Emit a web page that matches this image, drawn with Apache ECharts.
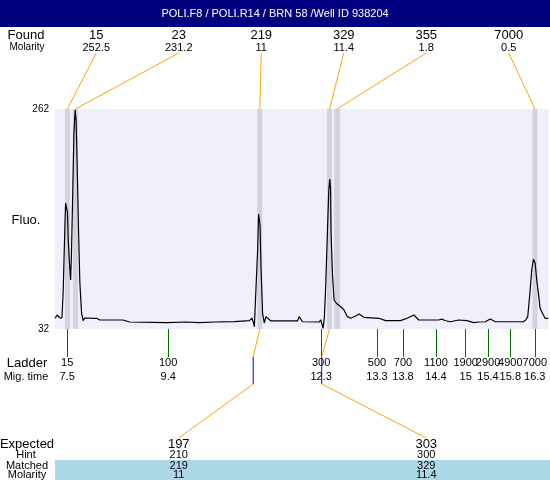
<!DOCTYPE html>
<html><head><meta charset="utf-8">
<script src="https://cdn.jsdelivr.net/npm/echarts@6/dist/echarts.min.js"></script>
<style>html,body{margin:0;padding:0;background:#fff}#c{width:550px;height:480px}</style>
</head><body><div id="c"></div>
<script>
const title = 'POLI.F8 / POLI.R14 / BRN 58 /Well ID 938204';
const traceTime = [7.27,7.31,7.344,7.363,7.401,7.425,7.438,7.457,7.470,7.489,7.504,7.519,7.541,7.564,7.579,7.601,7.626,7.650,7.667,7.688,7.714,7.738,7.770,7.800,7.832,7.864,8.052,8.114,8.545,8.676,9.371,9.746,9.990,10.271,10.646,10.928,10.978,11.003,11.022,11.054,11.084,11.102,11.115,11.129,11.147,11.177,11.209,11.241,11.271,11.335,11.616,11.834,11.866,11.928,12.241,12.273,12.316,12.341,12.367,12.397,12.423,12.442,12.457,12.466,12.491,12.523,12.566,12.648,12.710,12.772,12.836,12.930,12.992,13.085,13.367,13.493,13.774,13.898,14.024,14.117,14.493,14.555,14.605,14.712,14.868,15.024,15.149,15.243,15.369,15.463,15.556,16.087,16.130,16.168,16.213,16.243,16.275,16.307,16.337,16.369,16.401,16.444,16.494,16.556];
const traceFluo = [43.2,46.6,46.1,43.5,43.5,72.8,101.0,140.7,163.7,165.3,154.3,125.0,102.0,83.2,109.4,166.9,236.9,261.0,250.5,201.4,132.4,80.1,48.7,40.7,43.5,44.2,43.2,41.4,41.4,39.3,38.6,39.3,38.6,39.3,39.8,40.7,43.2,39.3,34.4,76.2,114.6,152.2,153.6,140.7,97.1,48.4,38.3,44.9,43.2,40.4,40.4,40.4,44.9,39.6,39.3,41.4,32.7,44.9,80.1,132.4,177.3,188.8,177.3,132.4,90.5,62.3,58.9,55.3,51.9,44.9,43.2,45.6,47.7,44.2,43.2,40.7,40.7,43.2,46.6,41.4,41.4,42.5,40.9,39.6,41.4,40.7,38.6,39.3,39.6,42.5,39.6,39.6,41.4,44.9,72.8,93.7,104.9,100.7,83.2,69.3,53.6,48.4,43.2,43.2];
const yTicks = [32, 262];
const foundSizes = ['15','23','219','329','355','7000'];
const foundMolarity = ['252.5','231.2','11','11.4','1.8','0.5'];
const foundStart = [7.457, 7.607, 11.078, 12.391, 12.523, 16.256];
const foundEnd = [7.551, 7.701, 11.172, 12.485, 12.636, 16.350];
const ladderSizes = ['15','100','300','500','700','1100','1900','2900','4900','7000'];
const ladderTimes = [7.5, 9.4, 12.28, 13.33, 13.82, 14.44, 15.0, 15.42, 15.84, 16.3];
const expectedSizes = ['197','303'];
const expectedTimes = [11.0, 12.29];
const hintSizes = ['210','300'];
const matchedSizes = ['219','329'];
const matchedMolarity = ['11','11.4'];
const matchedFound = [2, 3];

const FF = '"Liberation Sans", Arial, sans-serif';
const chart = echarts.init(document.getElementById('c'), null, {renderer:'canvas'});
const GL = 55, GT = 109, GW = 495, GH = 220;

chart.setOption({
  animation: false,
  backgroundColor: '#ffffff',
  grid: {left: GL, top: GT, width: GW, height: GH, show: true, backgroundColor: '#f0f0fc', borderWidth: 0},
  xAxis: {
    type: 'value', min: 7.27, max: 16.556,
    axisLine: {show: false}, splitLine: {show: false},
    axisTick: {show: true, customValues: ladderTimes, length: 28, lineStyle: {color: '#007000', width: 1}},
    axisLabel: {
      show: true, customValues: ladderTimes, margin: 27,
      formatter: function (v) {
        let i = ladderTimes.findIndex(t => Math.abs(t - v) < 1e-6);
        if (i < 0) return '';
        return '{a|' + ladderSizes[i] + '}\n{b|' + parseFloat(ladderTimes[i].toFixed(1)) + '}';
      },
      rich: {
        a: {fontSize: 11, fontFamily: FF, color: '#000', lineHeight: 14},
        b: {fontSize: 11, fontFamily: FF, color: '#000', lineHeight: 14}
      }
    }
  },
  yAxis: {
    type: 'value', min: 32, max: 262,
    axisLine: {show: false}, axisTick: {show: false}, splitLine: {show: false},
    axisLabel: {customValues: yTicks, fontSize: 10, fontFamily: FF, color: '#000', margin: 6}
  },
  series: [{
    type: 'line', data: traceTime.map((t, i) => [t, traceFluo[i]]),
    showSymbol: false, lineStyle: {color: '#000', width: 1.2}, z: 5,
    markArea: {
      silent: true, itemStyle: {color: '#d3d3e0'},
      data: foundStart.map((s, i) => [{xAxis: s}, {xAxis: foundEnd[i]}])
    }
  }]
});

function txt(x, y, s, size, fill) {
  return {type: 'text', x: x, y: y, z: 100,
    style: {text: s, fill: fill || '#000', fontSize: size, fontFamily: FF, align: 'center', verticalAlign: 'middle'}};
}
function line(x1, y1, x2, y2, c) {
  return {type: 'line', z: 90, shape: {x1, y1, x2, y2}, style: {stroke: c, lineWidth: 1}};
}
const g = [];
g.push({type: 'rect', z: 80, shape: {x: 0, y: 0, width: 550, height: 27}, style: {fill: '#000080'}});
g.push(txt(275, 14, title, 11, '#ffffff'));
g.push(txt(26, 35, 'Found', 13));
g.push(txt(27, 47, 'Molarity', 10));
g.push(txt(26, 220, 'Fluo.', 13));
g.push(txt(27, 363, 'Ladder', 13));
g.push(txt(26, 377, 'Mig. time', 11));
const slot = GW / foundSizes.length;
foundSizes.forEach((s, i) => {
  const lx = GL + slot * (i + 0.5);
  g.push(txt(lx, 35, s, 13));
  g.push(txt(lx, 47.5, foundMolarity[i], 11));
  const c = (foundStart[i] + foundEnd[i]) / 2;
  const p = chart.convertToPixel({gridIndex: 0}, [c, 262]);
  g.push(line(lx, 53, p[0], p[1], '#ffa500'));
});
// expected section
g.push({type: 'rect', z: 80, shape: {x: GL, y: 460, width: GW, height: 20}, style: {fill: '#add8e6'}});
g.push(txt(27, 444, 'Expected', 13));
g.push(txt(26, 455, 'Hint', 11));
g.push(txt(27, 466, 'Matched', 11));
g.push(txt(27, 475, 'Molarity', 11));
const eslot = GW / expectedSizes.length;
expectedSizes.forEach((s, i) => {
  const lx = GL + eslot * (i + 0.5);
  g.push(txt(lx, 444, s, 13));
  g.push(txt(lx, 455, hintSizes[i], 11));
  g.push(txt(lx, 466, matchedSizes[i], 11));
  g.push(txt(lx, 475, matchedMolarity[i], 11));
  const pe = chart.convertToPixel({gridIndex: 0}, [expectedTimes[i], 32]);
  const fi = matchedFound[i];
  const pm = chart.convertToPixel({gridIndex: 0}, [(foundStart[fi] + foundEnd[fi]) / 2, 32]);
  g.push(line(lx, 438, pe[0], 384, '#ffa500'));
  g.push(line(pe[0], 384, pe[0], 357, '#0000ff'));
  g.push(line(pe[0], 357, pm[0], pm[1], '#ffa500'));
});
chart.setOption({graphic: g});
</script></body></html>
